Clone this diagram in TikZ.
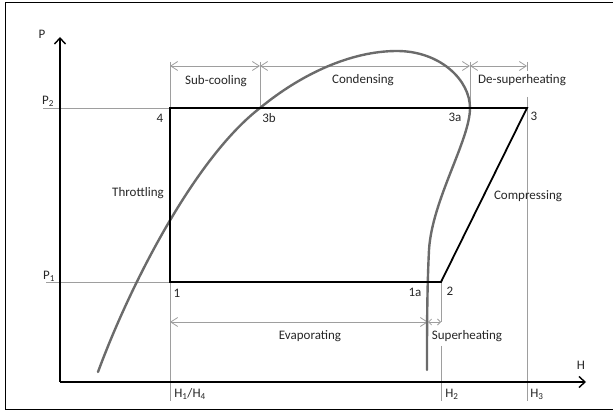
\documentclass[tikz,border=0pt]{standalone}
\usepackage{fontspec}
\setmainfont{Carlito}
\usetikzlibrary{arrows.meta}
\begin{document}
\begin{tikzpicture}[x=1pt,y=-1pt,
  lbl/.style={inner sep=0pt, font=\fontsize{13}{15}\selectfont, text=black!85},
  guide/.style={draw=black!38, line width=0.8pt},
  dim/.style={guide, {Straight Barb[length=7pt,width=9pt]}-{Straight Barb[length=7pt,width=9pt]}},
  cycle/.style={draw=black, line width=1.8pt, line join=miter},
  axis/.style={draw=black, line width=1.4pt, -{Straight Barb[length=6pt,width=11pt,line width=1.4pt]}},
  sat/.style={draw=black!58, line width=2.4pt, line cap=round}]
\path[use as bounding box] (0,0) rectangle (613,411);
% frame
\coordinate (fTR) at (615,3);
\coordinate (fTL) at (5,3);
\coordinate (fBL) at (5,409);
\coordinate (fBR) at (615,409);
\draw[line width=1pt] (fTR) -- (fTL) -- (fBL) -- (fBR);
% cycle points
\coordinate (c1) at (170,282);
\coordinate (c2) at (441,282);
\coordinate (c3) at (527,108);
\coordinate (c4) at (170,108);
\coordinate (c3a) at (470,108);
\coordinate (c3b) at (260,108);
\coordinate (c1a) at (428,282);
% guide end points
\coordinate (p2l) at (43,108);
\coordinate (p1l) at (46,282);
\coordinate (t170) at (170,62);
\coordinate (b170) at (170,401);
\coordinate (t260) at (260,62);
\coordinate (t470) at (470,62);
\coordinate (t527) at (527,62);
\coordinate (m527) at (527,71);
\coordinate (u527) at (527,97);
\coordinate (b527) at (527,401);
\coordinate (a441) at (441,322);
\coordinate (s441) at (441,346);
\coordinate (b441) at (441,401);
% guides
\draw[guide] (p2l) -- (c4);
\draw[guide] (p1l) -- (c1);
\draw[guide] (t170) -- (c4);
\draw[guide] (c1) -- (b170);
\draw[guide] (t260) -- (c3b);
\draw[guide] (t470) -- (c3a);
\draw[guide] (t527) -- (m527);
\draw[guide] (u527) -- (b527);
\draw[guide] (c2) -- (a441);
\draw[guide] (s441) -- (b441);
% dimension arrows
\coordinate (d1) at (170,66);
\coordinate (d2) at (260,66);
\coordinate (d3) at (470,66);
\coordinate (d4) at (527,66);
\coordinate (e1) at (170,322);
\coordinate (e2) at (428,322);
\coordinate (e3) at (441,322);
\draw[dim] (d1) -- (d2);
\draw[dim] (d2) -- (d3);
\draw[dim] (d3) -- (d4);
\draw[dim] (e1) -- (e2);
\draw[dim, {Straight Barb[length=3pt,width=6pt]}-{Straight Barb[length=3pt,width=6pt]}] (e2) -- (e3);
% axes
\coordinate (o) at (60,382);
\coordinate (ptop) at (60,37);
\coordinate (hend) at (586,382);
\draw[axis] (o) -- (ptop);
\draw[axis] (o) -- (hend);
% saturation curve
\coordinate (s0) at (98,372);
\coordinate (s1) at (260,108);
\coordinate (s2) at (397,51);
\coordinate (s3) at (470,108);
\coordinate (s4) at (429,250);
\coordinate (s5) at (427,370);
\draw[sat] (s0) .. controls (130,285) and (195,158) .. (s1)
  .. controls (300,75) and (350,51) .. (s2)
  .. controls (440,51) and (470,80) .. (s3)
  .. controls (470,140) and (432,200) .. (s4)
  .. controls (427,290) and (427,330) .. (s5);
% cycle
\draw[cycle] (c4) -- (c3b) -- (c3a) -- (c3) -- (c2) -- (c1a) -- (c1) -- cycle;
% labels
\node[lbl] (lP) at (42,34) {P};
\node[lbl] (lH) at (581,365) {H};
\node[lbl] (lP2) at (48,101) {P\textsubscript{2}};
\node[lbl] (lP1) at (49,276) {P\textsubscript{1}};
\node[lbl] (l4) at (160,118) {4};
\node[lbl] (l3b) at (269,118) {3b};
\node[lbl] (l3a) at (455,117) {3a};
\node[lbl] (l3) at (534,116) {3};
\node[lbl] (l1) at (177,293) {1};
\node[lbl] (l1a) at (415,292) {1a};
\node[lbl] (l2) at (450,291) {2};
\node[lbl] (lsub) at (216,81) {Sub-cooling};
\node[lbl] (lcond) at (363,80) {Condensing};
\node[lbl] (ldes) at (522,80) {De-superheating};
\node[lbl] (lthr) at (138,193) {Throttling};
\node[lbl] (lcomp) at (528,196) {Compressing};
\node[lbl] (levap) at (310,336) {Evaporating};
\node[lbl] (lsup) at (467,336) {Superheating};
\node[lbl] (lh14) at (190,394) {H\textsubscript{1}/H\textsubscript{4}};
\node[lbl] (lh2) at (452,394) {H\textsubscript{2}};
\node[lbl] (lh3) at (537,394) {H\textsubscript{3}};
\end{tikzpicture}
\end{document}
